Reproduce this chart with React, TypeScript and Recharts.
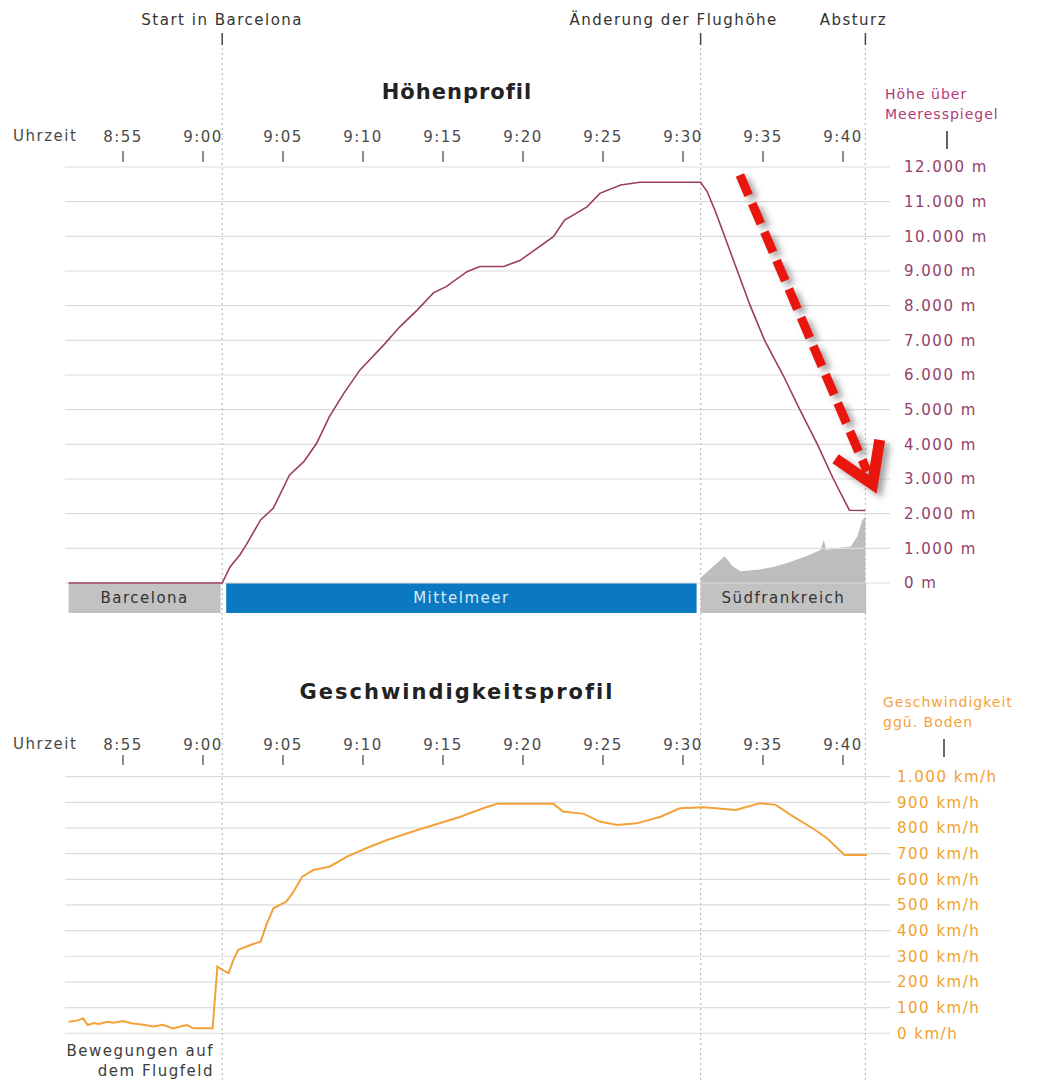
import React from 'react';
import { Area, ComposedChart, Line, ReferenceArea, ReferenceLine, XAxis, YAxis } from 'recharts';

// time is in minutes after 8:00 (55 = 8:55, 100 = 9:40)
const timeTicks = [55, 60, 65, 70, 75, 80, 85, 90, 95, 100];
const altTicks = [0, 1000, 2000, 3000, 4000, 5000, 6000, 7000, 8000, 9000, 10000, 11000, 12000];
const speedTicks = [0, 100, 200, 300, 400, 500, 600, 700, 800, 900, 1000];

const altMinutes = [
  51.6, 61.2, 61.7, 62.3, 62.7, 63.6, 64.4, 65.4, 66.3, 67.1, 67.9, 68.8, 69.8, 71.3, 72.3, 73.4, 74.4, 75.2,
  76.5, 77.3, 78.8, 79.8, 81.9, 82.6, 84.0, 84.8, 86.1, 87.3, 91.1, 91.5, 92.0, 92.6, 93.4, 94.2, 95.1, 96.25,
  97.3, 98.4, 99.4, 100.4, 101.4,
];
const altMeters = [
  0, 0, 470, 810, 1100, 1820, 2160, 3110, 3500, 4030, 4800, 5470, 6140, 6870, 7390, 7880, 8370, 8550,
  8980, 9130, 9130, 9300, 9990, 10470, 10850, 11240, 11480, 11560, 11560, 11300, 10750, 10000, 9000, 8000, 7000, 6000,
  5000, 4000, 3000, 2100, 2090,
];

const terrainMinutes = [91.1, 91.9, 92.6, 93.1, 93.6, 94.8, 95.7, 96.5, 97.7, 98.6, 98.8, 98.95, 99.8, 100.5, 100.9, 101.2, 101.4];
const terrainMeters = [150, 480, 770, 480, 340, 390, 470, 580, 770, 950, 1250, 950, 1010, 1060, 1350, 1800, 1920];

const speedMinutes = [
  51.6, 52.2, 52.5, 52.8, 53.2, 53.5, 54.0, 54.4, 55.0, 55.6, 56.3, 56.9, 57.5, 58.1, 58.6, 59.0, 59.4, 60.6,
  60.9, 61.2, 61.6, 61.9, 62.2, 63.0, 63.6, 64.0, 64.4, 65.2, 65.6, 66.2, 66.9, 67.9, 69.0, 70.2, 71.5, 73.4,
  76.1, 77.5, 78.4, 81.9, 82.5, 83.8, 84.8, 85.9, 87.1, 88.6, 89.8, 91.3, 93.3, 94.8, 95.8, 96.9, 98.1, 99.0,
  100.1, 101.5,
];
const speedKmh = [
  45, 50, 58, 32, 40, 36, 45, 41, 48, 38, 33, 26, 33, 19, 26, 32, 19, 19,
  260, 247, 234, 286, 325, 345, 357, 429, 487, 513, 546, 610, 636, 649, 688, 721, 753, 792,
  844, 877, 894, 894, 864, 855, 825, 812, 818, 844, 877, 881, 870, 896, 890, 844, 799, 760,
  695, 695,
];

const eventNames = ['Start in Barcelona', 'Änderung der Flughöhe', 'Absturz'];
const eventMinutes = [61.2, 91.1, 101.4];
const eventLabelShift = [0, -27, -12];

const regionNames = ['Barcelona', 'Mittelmeer', 'Südfrankreich'];
const regionFrom = [51.6, 61.45, 91.1];
const regionTo = [61.1, 90.85, 101.45];
const regionFill = ['#c2c2c2', '#0b78c2', '#c2c2c2'];
const regionText = ['#333333', '#d8ecf8', '#333333'];

// arrow annotation: start and tip (minutes, meters)
const arrowMinutes = [93.56, 101.85];
const arrowMeters = [11770, 2850];

const altData = altMinutes.map((t, i) => ({ t, v: altMeters[i] }));
const terrainData = terrainMinutes.map((t, i) => ({ t, v: terrainMeters[i] }));
const speedData = speedMinutes.map((t, i) => ({ t, v: speedKmh[i] }));

const ALT_COLOR = '#9b3d62';
const ALT_LABEL = '#93406a';
const SPEED_COLOR = '#f2a23a';
const SPEED_LABEL = '#f0a12c';
const GRID = '#dcdcdc';

function fmtThousands(v: number) {
  return String(v).replace(/\B(?=(\d{3})+(?!\d))/g, '.');
}

function fmtTime(t: number) {
  const h = 8 + Math.floor(t / 60);
  const m = t % 60;
  return `${h}:${m < 10 ? '0' : ''}${m}`;
}

function timeTick(labelY: number, tickTop: number, tickBottom: number) {
  return (props: any) => {
    const { x, payload } = props;
    return (
      <g>
        <text x={x} y={labelY} textAnchor="middle" fill="#4a4a4a" fontSize={15}>
          {fmtTime(payload.value)}
        </text>
        <line x1={x} x2={x} y1={tickTop} y2={tickBottom} stroke="#666" strokeWidth={1.5} />
      </g>
    );
  };
}

function valueTick(unit: string, color: string) {
  return (props: any) => {
    const { x, y, payload } = props;
    return (
      <text x={x} y={y} dy="0.36em" textAnchor="start" fill={color} fontSize={15}>
        {`${fmtThousands(payload.value)} ${unit}`}
      </text>
    );
  };
}

function eventLabel(text: string, shift: number) {
  return (props: any) => {
    const { x, y } = props.viewBox;
    return (
      <g>
        <text x={x + shift} y={y - 23} textAnchor="middle" fill="#333" fontSize={15}>
          {text}
        </text>
        <line x1={x} x2={x} y1={y - 15} y2={y - 3} stroke="#444" strokeWidth={1.5} />
      </g>
    );
  };
}

function ArrowShape(props: any) {
  const { x1, y1, x2, y2 } = props;
  const len = Math.hypot(x2 - x1, y2 - y1);
  const ux = (x2 - x1) / len;
  const uy = (y2 - y1) / len;
  const nx = -uy;
  const ny = ux;
  const back = 38;
  const side = 24;
  const shaftEnd = { x: x2 - ux * 14, y: y2 - uy * 14 };
  const la = { x: x2 - ux * back + nx * side, y: y2 - uy * back + ny * side };
  const ra = { x: x2 - ux * back - nx * side, y: y2 - uy * back - ny * side };
  return (
    <g>
      <defs>
        <filter id="arrowShadow" x="-50%" y="-50%" width="200%" height="200%">
          <feDropShadow dx="5" dy="4" stdDeviation="3" floodColor="#555" floodOpacity="0.55" />
        </filter>
      </defs>
      <g filter="url(#arrowShadow)">
        <line
          x1={x1}
          y1={y1}
          x2={shaftEnd.x}
          y2={shaftEnd.y}
          stroke="#e8140c"
          strokeWidth={9}
          strokeDasharray="22 9"
        />
        <polyline
          points={`${la.x},${la.y} ${x2},${y2} ${ra.x},${ra.y}`}
          fill="none"
          stroke="#e8140c"
          strokeWidth={11}
          strokeLinejoin="miter"
        />
      </g>
    </g>
  );
}

const overlay: React.CSSProperties = { position: 'absolute', whiteSpace: 'nowrap' };

export default function App() {
  return (
    <div className="wrap" style={{ position: 'relative', width: 1047, height: 1084, background: '#fff' }}>
      <style>{`
        body { margin: 0; }
        .wrap, .wrap text { font-family: "DejaVu Sans", sans-serif; letter-spacing: 1.5px; }
      `}</style>

      <ComposedChart width={1047} height={1084} margin={{ top: 47, right: 155, bottom: 0, left: 65 }}>
        <XAxis
          type="number"
          dataKey="t"
          domain={[51.375, 102.9375]}
          allowDataOverflow
          ticks={timeTicks}
          interval={0}
          orientation="top"
          height={1}
          axisLine={false}
          tickLine={false}
          tick={timeTick(142, 151, 162)}
        />
        <XAxis
          xAxisId="lower"
          type="number"
          dataKey="t"
          domain={[51.375, 102.9375]}
          allowDataOverflow
          ticks={timeTicks}
          interval={0}
          orientation="bottom"
          height={1}
          axisLine={false}
          tickLine={false}
          tick={timeTick(750, 755, 765)}
        />
        <YAxis
          yAxisId="alt"
          type="number"
          orientation="right"
          width={1}
          domain={[-14423, 15433]}
          allowDataOverflow
          ticks={altTicks}
          interval={0}
          axisLine={false}
          tickLine={false}
          tickSize={0}
          tickMargin={14}
          tick={valueTick('m', ALT_LABEL)}
        />
        <YAxis
          yAxisId="speed"
          type="number"
          orientation="right"
          width={1}
          domain={[-194, 3840]}
          allowDataOverflow
          ticks={speedTicks}
          interval={0}
          axisLine={false}
          tickLine={false}
          tickSize={0}
          tickMargin={6}
          tick={valueTick('km/h', SPEED_LABEL)}
        />

        {altTicks.map((v) => (
          <ReferenceLine key={`ga-${v}`} yAxisId="alt" y={v} stroke={GRID} strokeWidth={1.2} />
        ))}
        {speedTicks.map((v) => (
          <ReferenceLine key={`gs-${v}`} yAxisId="speed" y={v} stroke={GRID} strokeWidth={1.2} />
        ))}

        {regionNames.map((name, i) => (
          <ReferenceArea
            key={name}
            yAxisId="alt"
            x1={regionFrom[i]}
            x2={regionTo[i]}
            y1={-865}
            y2={0}
            fill={regionFill[i]}
            fillOpacity={1}
            stroke="none"
            label={{ value: name, position: 'center', fill: regionText[i], fontSize: 15 }}
          />
        ))}

        <Area
          yAxisId="alt"
          data={terrainData}
          dataKey="v"
          type="linear"
          baseValue={0}
          fill="#bdbdbd"
          fillOpacity={1}
          stroke="none"
          isAnimationActive={false}
        />

        {eventNames.map((name, i) => (
          <ReferenceLine
            key={name}
            yAxisId="alt"
            x={eventMinutes[i]}
            stroke="#bdbdbd"
            strokeWidth={1.2}
            strokeDasharray="2 3"
            label={eventLabel(name, eventLabelShift[i])}
          />
        ))}

        <Line
          yAxisId="alt"
          data={altData}
          dataKey="v"
          type="linear"
          stroke={ALT_COLOR}
          strokeWidth={1.6}
          dot={false}
          isAnimationActive={false}
        />
        <Line
          yAxisId="speed"
          data={speedData}
          dataKey="v"
          type="linear"
          stroke={SPEED_COLOR}
          strokeWidth={2}
          dot={false}
          isAnimationActive={false}
        />

        <ReferenceLine
          yAxisId="alt"
          segment={[
            { x: arrowMinutes[0], y: arrowMeters[0] },
            { x: arrowMinutes[1], y: arrowMeters[1] },
          ]}
          shape={ArrowShape}
        />
      </ComposedChart>

      <div style={{ ...overlay, left: 257, width: 400, top: 80, textAlign: 'center', fontSize: 21, fontWeight: 700, color: '#222', letterSpacing: 1 }}>
        Höhenprofil
      </div>
      <div style={{ ...overlay, left: 257, width: 400, top: 680, textAlign: 'center', fontSize: 21, fontWeight: 700, color: '#222', letterSpacing: 2 }}>
        Geschwindigkeitsprofil
      </div>

      <div style={{ ...overlay, left: 13, top: 127, fontSize: 15, color: '#4a4a4a' }}>Uhrzeit</div>
      <div style={{ ...overlay, left: 13, top: 735, fontSize: 15, color: '#4a4a4a' }}>Uhrzeit</div>

      <div style={{ ...overlay, left: 885, top: 84, fontSize: 14, lineHeight: '20px', color: '#b2387a', letterSpacing: 1 }}>
        Höhe über
        <br />
        Meeresspiegel
      </div>
      <div style={{ position: 'absolute', left: 946, top: 131, width: 1.5, height: 18, background: '#666' }} />

      <div style={{ ...overlay, left: 883, top: 692, fontSize: 14, lineHeight: '20px', color: '#f3a33c', letterSpacing: 1 }}>
        Geschwindigkeit
        <br />
        ggü. Boden
      </div>
      <div style={{ position: 'absolute', left: 943, top: 739, width: 1.5, height: 18, background: '#666' }} />

      <div style={{ ...overlay, right: 1047 - 214, top: 1041, fontSize: 15, lineHeight: '20px', color: '#3c3c3c', textAlign: 'right' }}>
        Bewegungen auf
        <br />
        dem Flugfeld
      </div>
    </div>
  );
}
